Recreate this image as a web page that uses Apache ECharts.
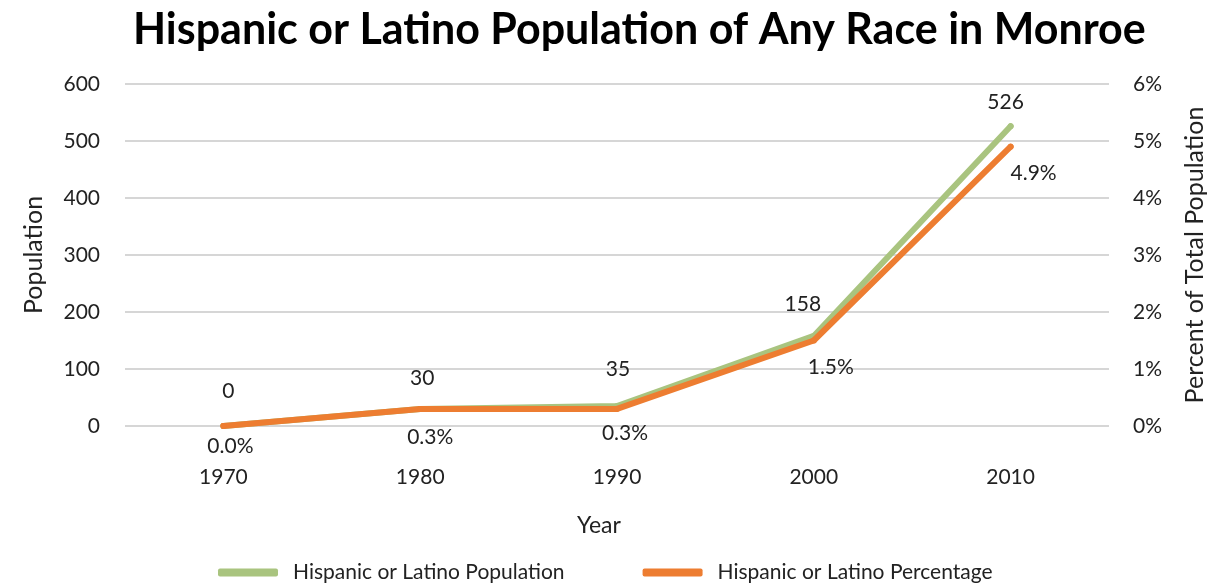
<!DOCTYPE html>
<html><head><meta charset="utf-8">
<script src="https://cdn.jsdelivr.net/npm/echarts@6/dist/echarts.min.js"></script>
<style>html,body{margin:0;padding:0;background:#fff}#c{width:1230px;height:583px}</style>
</head><body><div id="c"></div>
<script>
const years = ['1970','1980','1990','2000','2010'];
const population = [0, 30, 35, 158, 526];
const percentage = [0.0, 0.3, 0.3, 1.5, 4.9];
const popTicks = [0, 100, 200, 300, 400, 500, 600];
const pctTicks = [0, 1, 2, 3, 4, 5, 6];

const FONT = 'Lato';
const GREEN = '#A9C47F';
const ORANGE = '#ED7D31';

// label nudges in px (presentation only)
const popNudge = [[5,1],[2,5],[1,-1],[-11,4],[-5,12]];
const pctNudge = [[7,-3],[10,5],[8,1],[17,3],[23,3]];

const chart = echarts.init(document.getElementById('c'));
chart.setOption({
  animation: false,
  title: {
    text: 'Hispanic or Latino Population of Any Race in Monroe',
    left: 128, top: 4,
    textStyle: {fontFamily: FONT, fontSize: 43, fontWeight: 'bold', color: '#000'}
  },
  legend: {
    top: 557, left: 213, itemGap: 78, itemWidth: 60, itemHeight: 8,
    icon: 'roundRect',
    textStyle: {fontFamily: FONT, fontSize: 21, color: '#222', padding: [0,0,0,10]},
    data: ['Hispanic or Latino Population', 'Hispanic or Latino Percentage']
  },
  grid: {left: 125, right: 121, top: 84, bottom: 157},
  xAxis: {
    type: 'category', data: years, boundaryGap: true,
    axisLine: {show: false}, axisTick: {show: false},
    axisLabel: {fontFamily: FONT, fontSize: 21, color: '#222', margin: 41},
    name: 'Year', nameLocation: 'middle', nameGap: 88,
    nameTextStyle: {fontFamily: FONT, fontSize: 23, color: '#222', padding: [0, 36, 0, 0]}
  },
  yAxis: [{
    type: 'value', min: popTicks[0], max: popTicks[popTicks.length-1], interval: 100,
    axisLine: {show: false}, axisTick: {show: false},
    splitLine: {lineStyle: {color: '#c8c8c8', width: 1.5}},
    axisLabel: {fontFamily: FONT, fontSize: 21, color: '#222', margin: 25},
    name: 'Population', nameLocation: 'middle', nameGap: 79,
    nameTextStyle: {fontFamily: FONT, fontSize: 25, color: '#222'}
  }, {
    type: 'value', min: pctTicks[0], max: pctTicks[pctTicks.length-1], interval: 1,
    position: 'right',
    axisLine: {show: false}, axisTick: {show: false}, splitLine: {show: false},
    axisLabel: {fontFamily: FONT, fontSize: 21, color: '#222', margin: 24, formatter: v => v + '%'},
    name: 'Percent of Total Population', nameLocation: 'middle', nameGap: 73,
    nameTextStyle: {fontFamily: FONT, fontSize: 25, color: '#222'}
  }],
  series: [{
    name: 'Hispanic or Latino Population', type: 'line', yAxisIndex: 0,
    data: population,
    color: GREEN, symbol: 'circle', symbolSize: 6, showSymbol: true,
    itemStyle: {color: GREEN, borderWidth: 0},
    lineStyle: {width: 6, color: GREEN, cap: 'round', join: 'round'},
    label: {show: true, position: 'top', distance: 22, fontFamily: FONT, fontSize: 21, color: '#222'},
    labelLayout: p => ({dx: popNudge[p.dataIndex][0], dy: popNudge[p.dataIndex][1]}),
    z: 2
  }, {
    name: 'Hispanic or Latino Percentage', type: 'line', yAxisIndex: 1,
    data: percentage,
    color: ORANGE, symbol: 'circle', symbolSize: 6, showSymbol: true,
    itemStyle: {color: ORANGE, borderWidth: 0},
    lineStyle: {width: 6, color: ORANGE, cap: 'round', join: 'round'},
    label: {show: true, position: 'bottom', distance: 10, fontFamily: FONT, fontSize: 21, color: '#222',
            formatter: p => Number(p.value).toFixed(1) + '%'},
    labelLayout: p => ({dx: pctNudge[p.dataIndex][0], dy: pctNudge[p.dataIndex][1]}),
    z: 3
  }]
});
</script></body></html>
